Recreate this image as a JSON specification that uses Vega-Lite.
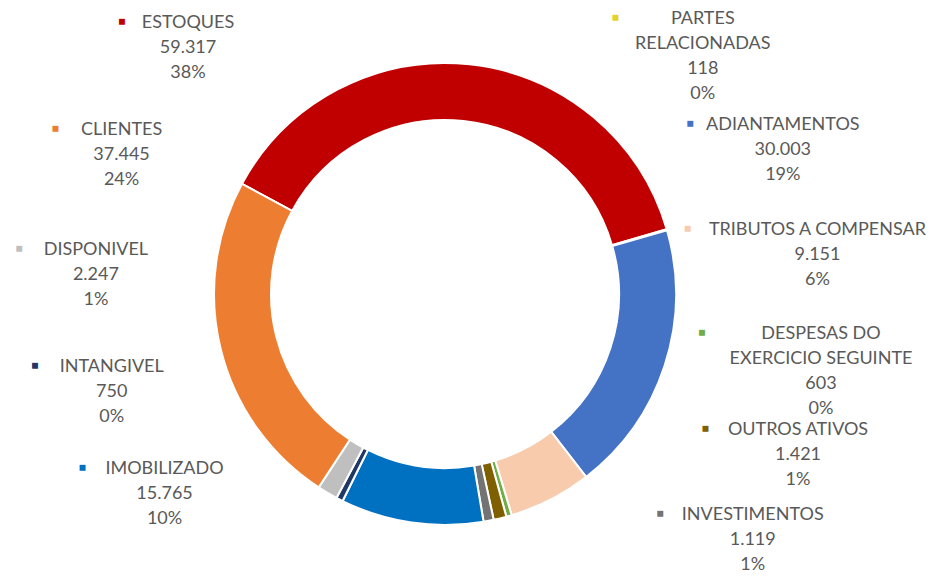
{
  "$schema": "https://vega.github.io/schema/vega-lite/v6.json",
  "width": 890,
  "height": 576,
  "autosize": {"type": "none"},
  "padding": {"left": 0, "top": 6, "right": 60, "bottom": 0},
  "background": "white",
  "config": {"view": {"stroke": null}},
  "data": {
    "values": [
      {"nome": "ESTOQUES", "valor": 59317},
      {"nome": "PARTES\nRELACIONADAS", "valor": 118},
      {"nome": "ADIANTAMENTOS", "valor": 30003},
      {"nome": "TRIBUTOS A COMPENSAR", "valor": 9151},
      {"nome": "DESPESAS DO\nEXERCICIO SEGUINTE", "valor": 603},
      {"nome": "OUTROS ATIVOS", "valor": 1421},
      {"nome": "INVESTIMENTOS", "valor": 1119},
      {"nome": "IMOBILIZADO", "valor": 15765},
      {"nome": "INTANGIVEL", "valor": 750},
      {"nome": "DISPONIVEL", "valor": 2247},
      {"nome": "CLIENTES", "valor": 37445}
    ]
  },
  "transform": [
    {"window": [{"op": "row_number", "as": "idx"}]},
    {"joinaggregate": [{"op": "sum", "field": "valor", "as": "total"}]},
    {"calculate": "datum.nome + '\\n' + replace(format(datum.valor, ','), ',', '.') + '\\n' + format(datum.valor / datum.total, '.0%')", "as": "rotulo"},
    {"calculate": "indexof(datum.nome, '\\n') < 0 ? datum.nome : (length(split(datum.nome, '\\n')[0]) >= length(split(datum.nome, '\\n')[1]) ? split(datum.nome, '\\n')[0] : split(datum.nome, '\\n')[1])", "as": "largest"},
    {"calculate": "'\u25aa'", "as": "marcador"},
    {"calculate": "datum.idx >= 2 && datum.idx <= 7 ? 'dir' : 'esq'", "as": "lado"},
    {"calculate": "datum.lado == 'dir' ? datum.idx - 2 : (datum.idx == 1 ? 0 : 12 - datum.idx)", "as": "pos"}
  ],
  "resolve": {"scale": {"theta": "independent", "radius": "independent"}},
  "layer": [
    {
      "mark": {"type": "arc", "innerRadius": 174, "outerRadius": 231, "stroke": "white", "strokeWidth": 2},
      "encoding": {
        "theta": {"field": "valor", "type": "quantitative", "stack": true, "scale": {"range": [-1.0734, 5.2098]}},
        "order": {"field": "idx", "type": "quantitative"},
        "color": {
          "field": "nome", "type": "nominal", "legend": null,
          "scale": {
            "domain": ["ESTOQUES", "PARTES\nRELACIONADAS", "ADIANTAMENTOS", "TRIBUTOS A COMPENSAR", "DESPESAS DO\nEXERCICIO SEGUINTE", "OUTROS ATIVOS", "INVESTIMENTOS", "IMOBILIZADO", "INTANGIVEL", "DISPONIVEL", "CLIENTES"],
            "range": ["#C00000", "#E5D22B", "#4472C4", "#F8CBAD", "#70AD47", "#7F6000", "#737373", "#0070C0", "#203864", "#BFBFBF", "#ED7D31"]
          }
        }
      }
    },
    {
      "transform": [{"filter": "datum.lado == 'dir'"}],
      "encoding": {
        "theta": {"field": "pos", "type": "quantitative", "stack": false, "scale": {"type": "pow", "exponent": 0.87, "domain": [0, 5], "range": [0.7505, 2.1904]}}
      },
      "layer": [
        {
          "mark": {"type": "text", "radius": 378, "font": "Lato, DejaVu Sans", "fontSize": 22, "align": "right", "baseline": "top", "dy": -10, "dx": {"expr": "-length(datum.largest) * 5.3 - 19"}},
          "encoding": {"text": {"field": "marcador"}, "color": {"field": "nome", "type": "nominal", "legend": null}}
        },
        {
          "mark": {"type": "text", "radius": 378, "font": "Lato, DejaVu Sans", "fontSize": 18, "align": "center", "baseline": "top", "dy": -8, "fill": "#595959", "lineBreak": "\n", "lineHeight": 25},
          "encoding": {"text": {"field": "rotulo"}}
        }
      ]
    },
    {
      "transform": [{"filter": "datum.lado == 'esq'"}],
      "encoding": {
        "theta": {"field": "pos", "type": "quantitative", "stack": false, "scale": {"domain": [0, 4], "range": [-0.7575, -2.1258]}},
        "radius": {"field": "pos", "type": "quantitative", "stack": false, "scale": {"type": "linear", "zero": false, "domain": [0, 4], "range": [374, 330]}}
      },
      "layer": [
        {
          "mark": {"type": "text", "font": "Lato, DejaVu Sans", "fontSize": 22, "align": "right", "baseline": "top", "dy": -10, "dx": {"expr": "-length(datum.largest) * 5.3 - 19"}},
          "encoding": {"text": {"field": "marcador"}, "color": {"field": "nome", "type": "nominal", "legend": null}}
        },
        {
          "mark": {"type": "text", "font": "Lato, DejaVu Sans", "fontSize": 18, "align": "center", "baseline": "top", "dy": -8, "fill": "#595959", "lineBreak": "\n", "lineHeight": 25},
          "encoding": {"text": {"field": "rotulo"}}
        }
      ]
    }
  ]
}
